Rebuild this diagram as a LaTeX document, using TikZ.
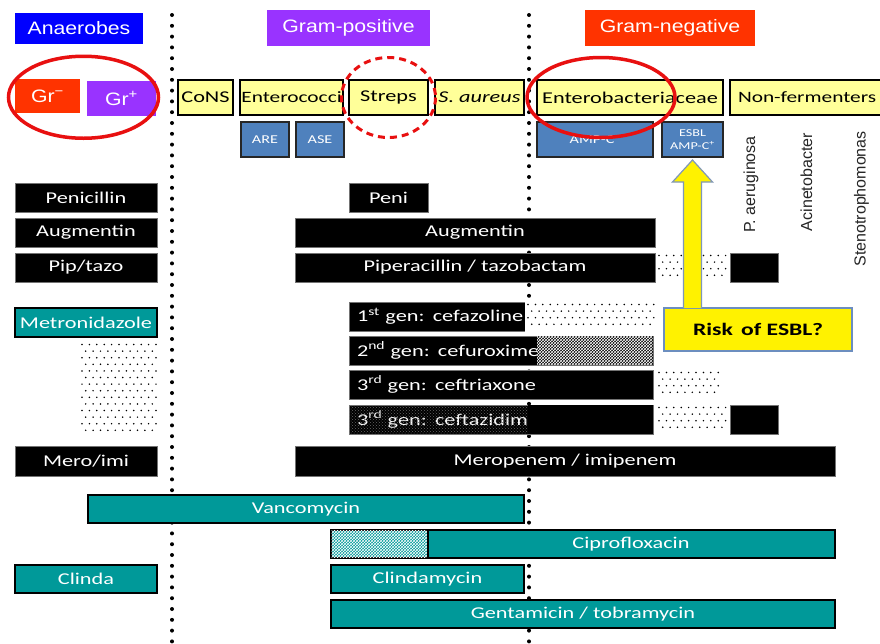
\documentclass[tikz,border=0pt]{standalone}
\usepackage{fontspec}
\setmainfont{Carlito}
\newfontfamily\lab[FakeStretch=1.35]{Carlito}
\newfontfamily\ttl[FakeStretch=1.18]{Liberation Sans}
\newfontfamily\rotf{Liberation Sans}
\usetikzlibrary{patterns,calc}
\definecolor{teal1}{HTML}{009999}
\definecolor{anaero}{HTML}{0000FF}
\definecolor{grampos}{HTML}{9933FF}
\definecolor{gramneg}{HTML}{FF3300}
\definecolor{paleyel}{HTML}{FFFF99}
\definecolor{steel}{HTML}{4F81BD}
\definecolor{ringred}{HTML}{E81010}
\definecolor{arrowedge}{HTML}{7F97B8}
\definecolor{riskedge}{HTML}{6C8EBF}
\newcommand\dotfield[4]{%
  \pgfmathtruncatemacro\dfnc{(#3-#1-2)/7.4}%
  \pgfmathtruncatemacro\dfnr{(#4-#2-3)/6.6}%
  \foreach \r in {0,...,\dfnr}{%
    \foreach \c in {0,...,\dfnc}{%
      \pgfmathsetmacro\dfx{#1+2+\c*7.4+mod(\r,2)*3.7}%
      \pgfmathsetmacro\dfy{#2+2.5+\r*6.6}%
      \ifdim\dfx pt<#3pt \fill[black] (\dfx,\dfy) circle (0.85);\fi
    }}%
}
\tikzset{
  sz/.style 2 args={minimum width=#1pt, minimum height=#2pt},
  bx/.style={anchor=north west, inner sep=0pt, outer sep=0pt, font=\lab\fontsize{16.5}{18}\selectfont},
  blk/.style={bx, fill=black, draw=black!55, line width=0.8pt, text=white},
  tl/.style={bx, fill=teal1, draw=black, line width=1.2pt, text=white},
  lft/.style={align=left, text width=#1pt, inner xsep=8pt},
  ttlbox/.style={anchor=north west, inner sep=0pt, outer sep=0pt, text=white, font=\ttl\fontsize{18}{20}\selectfont},
  yb/.style={bx, fill=paleyel, draw=black, line width=1.3pt, text=black},
  sb/.style={anchor=north west, inner sep=0pt, outer sep=0pt, fill=steel, draw=black!85, line width=1.3pt, text=white, font=\lab\fontsize{12}{13}\selectfont},
  rotlab/.style={rotate=90, anchor=east, inner sep=0pt, font=\rotf\fontsize{16}{18}\selectfont, text=black!85},
  ring/.style={draw=ringred, line width=3.5pt},
  vdots/.style={line width=4pt, line cap=round, dash pattern=on 0pt off 10.8pt},
}
\begin{document}
\begin{tikzpicture}[x=1pt,y=-1pt]
\useasboundingbox (0,0) rectangle (880,643);
\fill[white] (0,0) rectangle (880,643);
% dotted separators
\coordinate (sepAtop) at (172,15);
\coordinate (sepAbot) at (172,643);
\coordinate (sepBtop) at (529,15);
\coordinate (sepBbot) at (529,643);
\draw[vdots] (sepAtop) -- (sepAbot);
\draw[vdots] (sepBtop) -- (sepBbot);

% titles
\node[ttlbox, fill=anaero, sz={128}{31}] (anaer) at (15,13) {Anaerobes};
\node[ttlbox, fill=grampos, sz={163}{36}] (gpos) at (267,10) {Gram-positive};
\node[ttlbox, fill=gramneg, sz={170}{36}] (gneg) at (585,10) {Gram-negative};

% Gr boxes
\node[ttlbox, fill=gramneg, sz={65}{34}] (grn) at (15,79) {Gr\textsuperscript{\char"2212}};
\node[ttlbox, fill=grampos, sz={69}{35}] (grp) at (87,81) {Gr\textsuperscript{+}};

% organisms
\node[yb, sz={55}{35}] (cons) at (178,80) {CoNS};
\node[yb, sz={103}{35}, font=\lab\fontsize{15.8}{18}\selectfont] (entc) at (240,80) {Enterococci};
\node[yb, sz={79}{35}] (streps) at (349,80) {Streps};
\node[yb, sz={89}{35}] (saur) at (435,80) {\itshape S. aureus};
\node[yb, sz={186}{35}] (entb) at (537,80) {Enterobacteriaceae};
\node[yb, sz={160}{35}, lft=144, inner xsep=4pt, font=\lab\fontsize{15.8}{18}\selectfont] (nonf) at (730,80) {\mbox{Non-fermenters}};

\node[sb, sz={48}{35}] (are) at (241,122) {ARE};
\node[sb, sz={48}{35}] (ase) at (296,122) {ASE};
\node[sb, sz={116}{35}] (ampc) at (537,122) {AMP-C\textsuperscript{\char"2212}};
\node[sb, sz={61}{35}, align=center, font=\lab\fontsize{10.5}{13}\selectfont] (esbl) at (662,122) {ESBL\\AMP-C\textsuperscript{+}};

\node[rotlab] (paer) at (751,136) {P. aeruginosa};
\node[rotlab] (acin) at (806.5,133) {Acinetobacter};
\node[rotlab] (steno) at (861.5,131) {Stenotrophomonas};

% left column
\node[blk, sz={142}{29}] (penL) at (15,183) {Penicillin};
\node[blk, sz={142}{29}] (augL) at (15,218) {Augmentin};
\node[blk, sz={142}{29}] (pipL) at (15,253) {Pip/tazo};
\node[tl, sz={142}{29}] (metro) at (15,308) {Metronidazole};
\node[blk, sz={142}{30}] (meroL) at (15,446) {Mero/imi};
\node[tl, sz={142}{28}] (clindaL) at (15,565) {Clinda};
\dotfield{80}{342}{157}{432}

% middle
\node[blk, sz={79}{29}] (peni) at (349,183) {Peni};
\node[blk, sz={360}{29}] (aug) at (295,218) {Augmentin};
\node[blk, sz={360}{29}] (pip) at (295,253) {Piperacillin / tazobactam};
\dotfield{657}{253}{727}{282}
\node[blk, sz={48}{29}] (pipnf) at (730,253) {};

\node[blk, sz={306}{29}, lft=290] (ceph1) at (349,302) {1\textsuperscript{st} gen: cefazoline};
\fill[white] (524.5,301) rectangle (656,332.5);
\dotfield{526}{302}{655}{331}

\node[blk, sz={304}{29}, lft=288] (ceph2) at (349,336) {2\textsuperscript{nd} gen: cefuroxime};
\fill[black] (537,336.4) rectangle (652.6,364.6);
\fill[pattern=crosshatch, pattern color=white] (537,336.4) rectangle (652.6,364.6);

\node[blk, sz={304}{29}, lft=288] (ceph3) at (349,370) {3\textsuperscript{rd} gen: ceftriaxone};
\dotfield{657}{370}{720}{399}

\node[blk, sz={304}{29}, lft=288] (ceph3b) at (349,405) {3\textsuperscript{rd} gen: ceftazidime};
\fill[pattern=crosshatch dots, pattern color=black!60] (349.5,405.5) rectangle (528,433.5);
\fill[black] (528,405.4) rectangle (652.6,433.6);
\dotfield{657}{405}{727}{434}
\node[blk, sz={48}{29}] (ceph3bnf) at (730,405) {};

\node[blk, sz={540}{30}] (mero) at (295,446) {Meropenem / imipenem};
\node[tl, sz={436}{28}] (vanco) at (88,495) {Vancomycin};
\node[tl, sz={504}{28}] (cipro) at (331,530) {};
\fill[pattern=crosshatch, pattern color=white] (331.6,530.6) rectangle (428,557.4);
\draw[black, line width=1.2pt] (428,530) -- (428,558);
\node[font=\lab\fontsize{16.5}{18}\selectfont, text=white, inner sep=0pt] (ciprotxt) at ($(cipro.center)+(48,0)$) {Ciprofloxacin};
\node[tl, sz={193}{28}] (clinda) at (331,565) {Clindamycin};
\node[tl, sz={504}{28}] (genta) at (331,600) {Gentamicin / tobramycin};

% rings
\draw[ring] ($(grn.east)!0.5!(grp.west)$) ellipse [x radius=75, y radius=41];
\draw[ring, line width=3pt, dash pattern=on 7pt off 5pt] (streps.center) ellipse [x radius=47, y radius=40];
\draw[ring] ($(entb.center)+(-29,0)$) ellipse [x radius=74, y radius=40];

% arrow and risk box
\node[anchor=north west, inner sep=0pt, outer sep=0pt, sz={188}{43}, fill=yellow, draw=riskedge, line width=1.3pt, font=\lab\bfseries\fontsize{17.5}{19}\selectfont, text=black] (risk) at (664,308) {Risk\, of ESBL?};
\path let \p1=(esbl.south), \p2=(risk.north) in
  [draw=arrowedge, fill=yellow, line width=1.2pt, line join=miter]
  (\x1-9pt,\y2) -- (\x1-9pt,\y1-25pt) -- (\x1-20pt,\y1-25pt) -- (\x1,\y1-3pt)
  -- (\x1+20pt,\y1-25pt) -- (\x1+9pt,\y1-25pt) -- (\x1+9pt,\y2);
\end{tikzpicture}
\end{document}
